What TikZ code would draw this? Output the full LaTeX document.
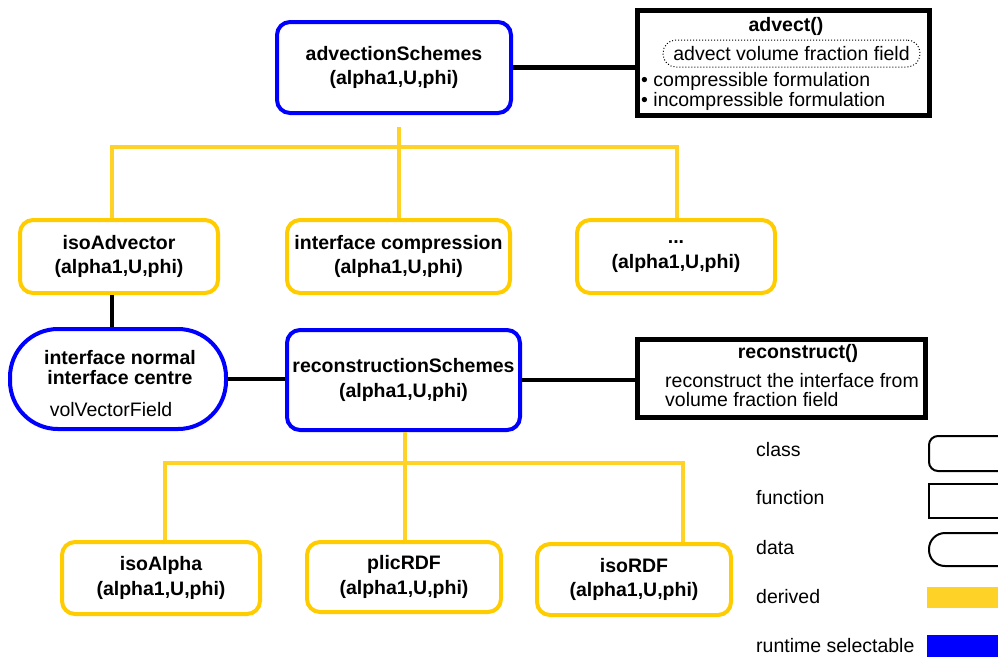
\documentclass[tikz,border=0pt]{standalone}
\usepackage{fontspec}
\setmainfont{Liberation Sans}
\usetikzlibrary{calc}
\definecolor{selblue}{RGB}{0,0,255}
\definecolor{dergold}{RGB}{255,204,0}
\definecolor{derline}{RGB}{255,210,40}
\begin{document}
\begin{tikzpicture}[x=1pt,y=-1pt,
  clsbox/.style={rectangle, rounded corners=13pt, line width=4pt, fill=white,
    inner sep=0pt, align=center, font=\fontsize{19.5}{24.5}\selectfont\bfseries},
  selectable/.style={clsbox, draw=selblue},
  derived/.style={clsbox, draw=dergold},
  fnbox/.style={rectangle, draw=black, line width=5pt, inner sep=0pt},
  txt/.style={inner sep=0pt, font=\fontsize{19.5}{20}\selectfont},
  btxt/.style={inner sep=0pt, align=center, font=\fontsize{19.5}{20}\selectfont\bfseries},
  link/.style={line width=4.5pt, black},
  derlink/.style={line width=4pt, derline},
  legshape/.style={draw=black, line width=2pt, inner sep=0pt, anchor=west, minimum width=90pt}]
\clip (0,0) rectangle (998,657);
\fill[white] (0,0) rectangle (998,657);

% advection branch
\node[selectable, minimum width=234pt, minimum height=91pt] (adv) at (394,67.5) {advectionSchemes\\(alpha1,U,phi)};
\node[derived, minimum width=198pt, minimum height=73pt] (isoadv) at (119,256.5) {isoAdvector\\(alpha1,U,phi)};
\node[derived, minimum width=223pt, minimum height=73pt] (intcomp) at (398.5,256.5) {interface compression\\(alpha1,U,phi)};
\node[derived, minimum width=198pt, minimum height=73pt] (dots) at (676,256.5) {...\\(alpha1,U,phi)};

% advect() function
\node[fnbox, minimum width=292pt, minimum height=105pt] (advfn) at (783.5,63) {};
\node[btxt] (advtitle) at (786,26) {advect()};
\node[txt, draw=black, dotted, line width=1pt, rounded corners=13pt,
  minimum width=257pt, minimum height=27pt] (advdesc) at (791.5,53.5) {advect volume fraction field};
\node[txt, anchor=west] (advb1) at (641,81) {\textbullet\ compressible formulation};
\node[txt, anchor=west] (advb2) at (641,101) {\textbullet\ incompressible formulation};

% data node
\node[draw=selblue, line width=4pt, rounded corners=48pt, fill=white,
  minimum width=216pt, minimum height=100pt, inner sep=0pt] (vf) at (118,379) {};
\node[btxt] (vfname) at (120,368) {interface normal\\interface centre};
\node[txt] (vftype) at (111,410) {volVectorField};

% reconstruction branch
\node[selectable, minimum width=233pt, minimum height=100pt] (recon) at (403.5,380) {reconstructionSchemes\\(alpha1,U,phi)};
\node[derived, minimum width=198pt, minimum height=72pt] (isoalpha) at (161,578) {isoAlpha\\(alpha1,U,phi)};
\node[derived, minimum width=194pt, minimum height=70pt] (plic) at (404,577) {plicRDF\\(alpha1,U,phi)};
\node[derived, minimum width=194pt, minimum height=71pt] (isordf) at (634,579.5) {isoRDF\\(alpha1,U,phi)};

% reconstruct() function
\node[fnbox, minimum width=288pt, minimum height=78pt] (recfn) at (781.5,378.5) {};
\node[btxt] (rectitle) at (798,353) {reconstruct()};
\node[txt, anchor=west] (recl1) at (665,381) {reconstruct the interface from};
\node[txt, anchor=west] (recl2) at (665,400) {volume fraction field};

% black links
\draw[link] (adv.east) -- (adv.east -| advfn.west);
\draw[link] ([xshift=-7pt]isoadv.south) -- ([xshift=-7pt]isoadv.south |- vf.north);
\draw[link] (vf.east) -- (vf.east -| recon.west);
\draw[link] (recon.east) -- (recon.east -| recfn.west);

% derivation trees
\coordinate (upbus) at (398,147);
\draw[derlink] ([xshift=-7pt]isoadv.north) |- (upbus) -| ([xshift=1pt]dots.north);
\draw[derlink, shorten >=12pt] (intcomp.north) -- (intcomp.north |- adv.south);
\coordinate (lowbus) at (405,463);
\draw[derlink] ([xshift=4pt]isoalpha.north) |- (lowbus) -| ([xshift=49pt]isordf.north);
\draw[derlink] (plic.north -| lowbus) -- (recon.south -| lowbus);

% legend
\node[txt, anchor=west] (lclass) at (756,450) {class};
\node[legshape, rounded corners=9pt, minimum height=35pt] (lclassbox) at (928,453.5) {};
\node[txt, anchor=west] (lfunc) at (756,498) {function};
\node[legshape, minimum height=34pt] (lfuncbox) at (928,501) {};
\node[txt, anchor=west] (ldata) at (756,548) {data};
\node[legshape, rounded corners=16pt, minimum height=33pt] (ldatabox) at (928,549.5) {};
\node[txt, anchor=west] (lder) at (756,597) {derived};
\node[fill=derline, inner sep=0pt, anchor=west, minimum width=80pt, minimum height=21pt] (lderbox) at (927,597.5) {};
\node[txt, anchor=west] (lsel) at (756,646) {runtime selectable};
\node[fill=selblue, inner sep=0pt, anchor=west, minimum width=80pt, minimum height=22pt] (lselbox) at (927,646) {};
\end{tikzpicture}
\end{document}
